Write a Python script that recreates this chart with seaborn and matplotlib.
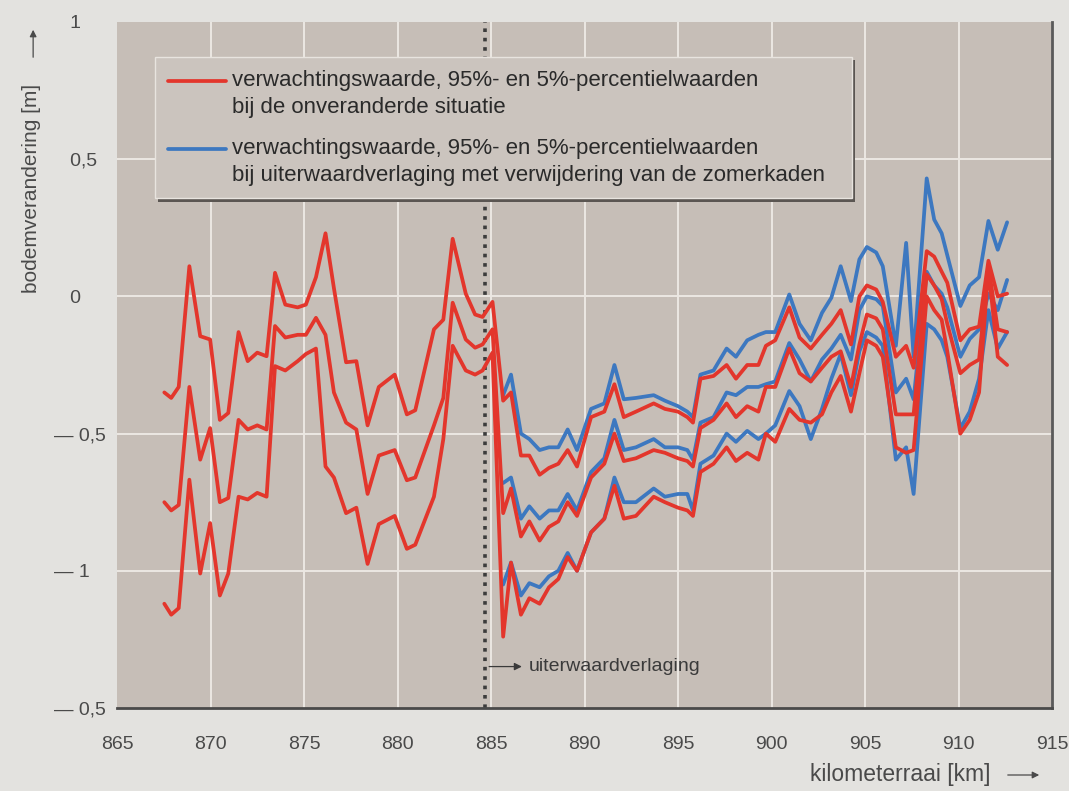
import numpy as np
import pandas as pd
import seaborn as sns
import matplotlib
matplotlib.use("Agg")
import matplotlib.pyplot as plt
from matplotlib.patches import Rectangle
from matplotlib.lines import Line2D

# ---------------- data ----------------
km_pre = [867.53, 867.9, 868.3, 868.87, 869.45, 869.98, 870.5, 870.95, 871.5, 871.99,
          872.5, 873.0, 873.45, 874.0, 874.66, 875.1, 875.64, 876.15, 876.6, 877.25,
          877.8, 878.4, 879.0, 879.85, 880.5, 880.95, 881.95, 882.45, 882.95, 883.65,
          884.15, 884.55, 885.08]
red_hi_pre = [-0.35, -0.37, -0.33, 0.11, -0.145, -0.157, -0.45, -0.425, -0.13, -0.236,
              -0.205, -0.218, 0.086, -0.03, -0.04, -0.03, 0.07, 0.23, 0.03, -0.24,
              -0.236, -0.47, -0.33, -0.285, -0.43, -0.415, -0.12, -0.085, 0.21, 0.01,
              -0.066, -0.075, -0.02]
red_mid_pre = [-0.75, -0.78, -0.76, -0.33, -0.595, -0.48, -0.75, -0.735, -0.45, -0.485,
               -0.47, -0.485, -0.108, -0.15, -0.14, -0.14, -0.078, -0.14, -0.35, -0.46,
               -0.485, -0.72, -0.58, -0.56, -0.67, -0.66, -0.47, -0.37, -0.023, -0.157,
               -0.187, -0.175, -0.12]
red_lo_pre = [-1.12, -1.16, -1.136, -0.668, -1.01, -0.826, -1.09, -1.01, -0.73, -0.74,
              -0.716, -0.73, -0.254, -0.27, -0.236, -0.21, -0.19, -0.62, -0.66, -0.79,
              -0.77, -0.975, -0.83, -0.80, -0.92, -0.905, -0.73, -0.52, -0.18, -0.27,
              -0.285, -0.27, -0.205]

km_post = [885.65, 886.07, 886.6, 887.05, 887.6, 888.1, 888.6, 889.1, 889.6, 890.35,
           891.06, 891.6, 892.1, 892.75, 893.7, 894.3, 895.0, 895.5, 895.8, 896.2,
           896.9, 897.6, 898.1, 898.7, 899.3, 899.7, 900.2, 900.95, 901.5, 902.1,
           902.7, 903.2, 903.7, 904.25, 904.7, 905.1, 905.6, 905.95, 906.65, 907.2,
           907.6, 908.3, 908.7, 909.1, 909.4, 910.1, 910.6, 911.1, 911.6, 912.1, 912.6]
red_hi_post = [-0.38, -0.35, -0.58, -0.58, -0.65, -0.625, -0.61, -0.56, -0.62, -0.44,
               -0.42, -0.32, -0.44, -0.42, -0.39, -0.41, -0.42, -0.44, -0.46, -0.30,
               -0.29, -0.25, -0.30, -0.25, -0.25, -0.18, -0.16, -0.04, -0.15, -0.19,
               -0.14, -0.10, -0.05, -0.175, 0.0, 0.04, 0.025, -0.02, -0.22, -0.18,
               -0.26, 0.165, 0.145, 0.09, 0.05, -0.16, -0.12, -0.11, 0.13, 0.0, 0.01]
red_mid_post = [-0.79, -0.70, -0.875, -0.82, -0.89, -0.84, -0.82, -0.75, -0.80, -0.66,
                -0.61, -0.50, -0.60, -0.59, -0.56, -0.57, -0.59, -0.60, -0.62, -0.48,
                -0.45, -0.39, -0.44, -0.40, -0.42, -0.33, -0.33, -0.19, -0.28, -0.31,
                -0.26, -0.22, -0.20, -0.33, -0.175, -0.066, -0.08, -0.12, -0.43, -0.43,
                -0.43, 0.08, 0.04, -0.01, -0.10, -0.28, -0.25, -0.23, 0.11, -0.12, -0.13]
red_lo_post = [-1.24, -0.97, -1.16, -1.10, -1.12, -1.06, -1.03, -0.95, -1.00, -0.86,
               -0.81, -0.69, -0.81, -0.80, -0.73, -0.75, -0.77, -0.78, -0.80, -0.64,
               -0.61, -0.55, -0.60, -0.57, -0.595, -0.50, -0.53, -0.41, -0.45, -0.46,
               -0.43, -0.35, -0.29, -0.42, -0.28, -0.16, -0.18, -0.22, -0.55, -0.57,
               -0.56, 0.0, -0.05, -0.085, -0.20, -0.50, -0.45, -0.35, 0.10, -0.22, -0.25]
blue_hi = [-0.36, -0.285, -0.50, -0.52, -0.56, -0.55, -0.55, -0.485, -0.56, -0.41,
           -0.39, -0.25, -0.375, -0.37, -0.36, -0.38, -0.40, -0.42, -0.44, -0.285,
           -0.27, -0.19, -0.22, -0.16, -0.14, -0.13, -0.13, 0.007, -0.10, -0.16,
           -0.06, -0.005, 0.11, -0.017, 0.135, 0.18, 0.16, 0.11, -0.18, 0.195,
           -0.22, 0.43, 0.28, 0.23, 0.15, -0.035, 0.04, 0.07, 0.275, 0.17, 0.27]
blue_mid = [-0.68, -0.66, -0.81, -0.765, -0.81, -0.78, -0.78, -0.72, -0.78, -0.64,
            -0.59, -0.45, -0.56, -0.55, -0.52, -0.55, -0.55, -0.56, -0.595, -0.46,
            -0.44, -0.35, -0.36, -0.33, -0.33, -0.32, -0.31, -0.17, -0.23, -0.31,
            -0.23, -0.19, -0.14, -0.23, -0.05, 0.0, -0.01, -0.035, -0.35, -0.30,
            -0.375, 0.09, 0.04, 0.01, -0.04, -0.22, -0.155, -0.12, 0.01, -0.05, 0.06]
blue_lo = [-1.05, -0.97, -1.09, -1.045, -1.06, -1.02, -1.00, -0.935, -1.00, -0.86,
           -0.81, -0.66, -0.75, -0.75, -0.70, -0.73, -0.72, -0.72, -0.78, -0.61,
           -0.58, -0.50, -0.53, -0.49, -0.52, -0.50, -0.47, -0.345, -0.40, -0.52,
           -0.41, -0.30, -0.21, -0.36, -0.20, -0.13, -0.15, -0.18, -0.595, -0.55,
           -0.72, -0.10, -0.12, -0.16, -0.22, -0.48, -0.42, -0.30, -0.05, -0.19, -0.13]

x_ticks = [865, 870, 875, 880, 885, 890, 895, 900, 905, 910, 915]
y_ticks = [1.0, 0.5, 0.0, -0.5, -1.0, -1.5]
y_tick_labels = ["   1", "   0,5", "   0", "— 0,5", "— 1", "— 0,5"]
km_verlaging = 884.7

legend_lines = ["verwachtingswaarde, 95%- en 5%-percentielwaarden",
                "bij de onveranderde situatie",
                "verwachtingswaarde, 95%- en 5%-percentielwaarden",
                "bij uiterwaardverlaging met verwijdering van de zomerkaden"]

RED = "#e3362c"
BLUE = "#3d78c0"
FIG_BG = "#e3e2df"
AX_BG = "#c6beb7"
TXT = "#4a4a4a"

# ---------------- dataframes ----------------
rows = []
km_red = km_pre + km_post
for stat, vals in [("hi", red_hi_pre + red_hi_post), ("mid", red_mid_pre + red_mid_post),
                   ("lo", red_lo_pre + red_lo_post)]:
    for k, v in zip(km_red, vals):
        rows.append(("onveranderd", stat, k, v))
for stat, vals in [("hi", blue_hi), ("mid", blue_mid), ("lo", blue_lo)]:
    for k, v in zip(km_post, vals):
        rows.append(("verlaging", stat, k, v))
df = pd.DataFrame(rows, columns=["scenario", "stat", "km", "v"])

# ---------------- figure ----------------
sns.set_theme(style="white")
plt.rcParams["font.family"] = ["Liberation Sans", "DejaVu Sans"]

fig = plt.figure(figsize=(10.69, 7.91), dpi=100, facecolor=FIG_BG)
ax = fig.add_axes([117 / 1069, 1 - 708 / 791, (1052 - 117) / 1069, (708 - 22) / 791])
ax.set_facecolor(AX_BG)
ax.set_xlim(865, 915)
ax.set_ylim(-1.5, 1.0)

# grid
for xv in x_ticks[1:-1]:
    ax.axvline(xv, color="#ece8e3", lw=1.4, zorder=1)
for yv in y_ticks[1:-1]:
    ax.axhline(yv, color="#ece8e3", lw=1.4, zorder=1)

# dotted line: start of uiterwaardverlaging
ax.axvline(km_verlaging, color="#3c3c3c", lw=2.6, ls=(0, (1.0, 1.6)), zorder=2)

sns.lineplot(data=df[df.scenario == "verlaging"], x="km", y="v", units="stat",
             estimator=None, sort=False, color=BLUE, lw=2.7, ax=ax, zorder=3)
sns.lineplot(data=df[df.scenario == "onveranderd"], x="km", y="v", units="stat",
             estimator=None, sort=False, color=RED, lw=2.7, ax=ax, zorder=4)

# spines
for s in ["top", "left"]:
    ax.spines[s].set_visible(False)
ax.spines["bottom"].set_color("#4a4a4a")
ax.spines["bottom"].set_linewidth(2.0)
ax.spines["right"].set_color("#5a5a5a")
ax.spines["right"].set_linewidth(2.0)

ax.set_xticks(x_ticks)
ax.set_xticklabels([str(t) for t in x_ticks])
ax.set_yticks(y_ticks)
ax.set_yticklabels(y_tick_labels)
ax.tick_params(axis="x", length=0, pad=20, labelsize=14, labelcolor=TXT)
ax.tick_params(axis="y", length=0, pad=45, labelsize=14, labelcolor=TXT)
for lab in ax.get_yticklabels():
    lab.set_horizontalalignment("left")
ax.set_xlabel("")
ax.set_ylabel("")

# legend box (drawn in axes fraction)
bx0, bx1, by0, by1 = 0.0406, 0.786, 0.743, 0.949
ax.add_patch(Rectangle((bx0 + 0.003, by0 - 0.005), bx1 - bx0, by1 - by0, transform=ax.transAxes,
                       facecolor="#5b5652", edgecolor="none", zorder=6))
ax.add_patch(Rectangle((bx0, by0), bx1 - bx0, by1 - by0, transform=ax.transAxes,
                       facecolor="#cbc4be", edgecolor="#e8e4df", lw=1.0, zorder=7))
ax.add_line(Line2D([0.0545, 0.1166], [0.914, 0.914], transform=ax.transAxes,
                   color=RED, lw=2.7, zorder=8))
ax.add_line(Line2D([0.0545, 0.1166], [0.815, 0.815], transform=ax.transAxes,
                   color=BLUE, lw=2.7, zorder=8))
for yy, txt in zip([0.914, 0.875, 0.815, 0.776], legend_lines):
    ax.text(0.123, yy, txt, transform=ax.transAxes, ha="left", va="center",
            fontsize=16, color="#2a2a2a", zorder=9)

# annotation uiterwaardverlaging
ax.annotate("", xy=(886.8, -1.349), xytext=(km_verlaging + 0.05, -1.349),
            arrowprops=dict(arrowstyle="-|>", color="#3a3a3a", lw=0.9, mutation_scale=11),
            zorder=9)
ax.text(887.0, -1.349, "uiterwaardverlaging", ha="left", va="center",
        fontsize=14, color="#3a3a3a", zorder=9)

# axis labels with arrows
fig.text(0.029, 1 - 188 / 791, "bodemverandering [m]", rotation=90, ha="center",
         va="center", fontsize=15, color=TXT)
fig.add_artist(matplotlib.patches.FancyArrowPatch(
    (0.031, 1 - 60 / 791), (0.031, 1 - 27 / 791), transform=fig.transFigure,
    arrowstyle="-|>", mutation_scale=10, color=TXT, lw=0.9))
fig.text(990 / 1069, 1 - 775 / 791, "kilometerraai [km]", ha="right", va="center",
         fontsize=16.5, color=TXT)
fig.add_artist(matplotlib.patches.FancyArrowPatch(
    (1005 / 1069, 1 - 775 / 791), (1042 / 1069, 1 - 775 / 791), transform=fig.transFigure,
    arrowstyle="-|>", mutation_scale=10, color=TXT, lw=0.9))

fig.savefig("out.png", dpi=100, facecolor=FIG_BG)
